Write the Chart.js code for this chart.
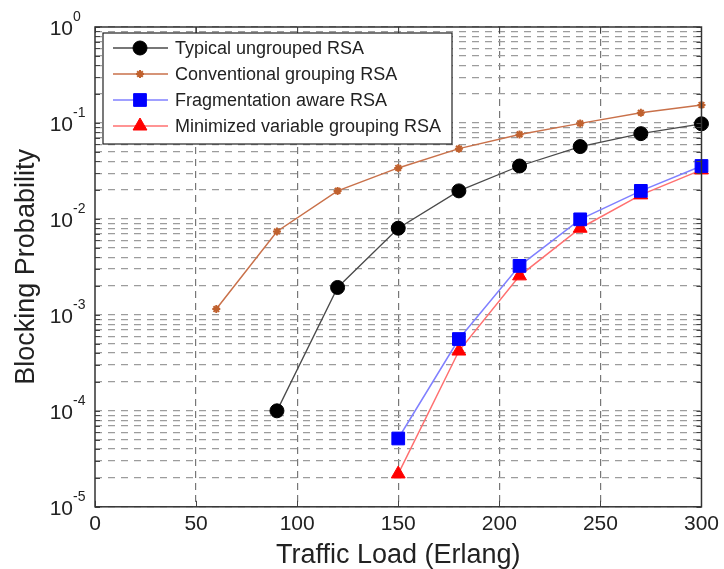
<!DOCTYPE html>
<html>
<head>
<meta charset="utf-8">
<script src="https://cdn.jsdelivr.net/npm/chart.js@4/dist/chart.umd.min.js"></script>
<style>
  html, body { margin: 0; padding: 0; background: #fff; }
  #wrap { width: 724px; height: 569px; }
</style>
</head>
<body>
<div id="wrap"><canvas id="bpChart" width="724" height="569"></canvas></div>
<script>
// traffic loads (Erlang) per series
const loadConventional = [60, 90, 120, 150, 180, 210, 240, 270, 300];
const loadTypical = [90, 120, 150, 180, 210, 240, 270, 300];
const loadFragment = [150, 180, 210, 240, 270, 300];

// blocking probability
const bpTypical = [1.0e-4, 1.93e-3, 8.0e-3, 0.0196, 0.0356, 0.0567, 0.0774, 0.098];
const bpConventional = [1.15e-3, 7.4e-3, 0.0196, 0.034, 0.054, 0.076, 0.099, 0.128, 0.154];
const bpFragment = [5.15e-5, 5.6e-4, 3.24e-3, 9.9e-3, 0.0196, 0.0356];
const bpMinimized = [2.2e-5, 4.2e-4, 2.55e-3, 8.0e-3, 0.0178, 0.0324];

const seriesNames = [
  'Typical ungrouped RSA',
  'Conventional grouping RSA',
  'Fragmentation aware RSA',
  'Minimized variable grouping RSA'
];

// axis ticks
const xTicks = [0, 50, 100, 150, 200, 250, 300];
const yDecades = [-5, -4, -3, -2, -1, 0];

const FONT = "'Liberation Sans', Arial, sans-serif";
const TEXT = '#222';

const pts = (xs, ys) => xs.map((x, i) => ({ x: x, y: ys[i] }));

// every 1..9 x 10^k mark for the log grid
const yGridValues = [];
yDecades.forEach(k => {
  if (k === yDecades[yDecades.length - 1]) { yGridValues.push(Math.pow(10, k)); return; }
  for (let m = 1; m <= 9; m++) yGridValues.push(m * Math.pow(10, k));
});

// frame, inner ticks, y labels with exponents, y title, legend box
const axesDecor = {
  id: 'axesDecor',
  afterDatasetsDraw(chart) {
    const { ctx, chartArea: a, scales } = chart;
    const xs = scales.x, ys = scales.y;
    ctx.save();

    // inner tick marks
    ctx.strokeStyle = '#444';
    ctx.lineWidth = 1;
    ctx.beginPath();
    yGridValues.forEach(v => {
      const y = Math.round(ys.getPixelForValue(v)) + 0.5;
      ctx.moveTo(a.left, y); ctx.lineTo(a.left + 5, y);
      ctx.moveTo(a.right, y); ctx.lineTo(a.right - 5, y);
    });
    xTicks.forEach(v => {
      const x = Math.round(xs.getPixelForValue(v)) + 0.5;
      ctx.moveTo(x, a.bottom); ctx.lineTo(x, a.bottom - 6);
      ctx.moveTo(x, a.top); ctx.lineTo(x, a.top + 6);
    });
    ctx.stroke();

    // frame
    ctx.strokeStyle = '#333';
    ctx.lineWidth = 1.5;
    ctx.strokeRect(a.left, a.top, a.right - a.left, a.bottom - a.top);

    // y tick labels as 10^k
    ctx.fillStyle = TEXT;
    ctx.textBaseline = 'middle';
    yDecades.forEach(k => {
      const y = ys.getPixelForValue(Math.pow(10, k));
      ctx.font = '21px ' + FONT;
      ctx.textAlign = 'right';
      ctx.fillText('10', 73, y + 2);
      ctx.font = '14px ' + FONT;
      ctx.textAlign = 'left';
      ctx.fillText(String(k), 73, y - 10);
    });

    // y axis title
    ctx.save();
    ctx.translate(27, (a.top + a.bottom) / 2);
    ctx.rotate(-Math.PI / 2);
    ctx.font = '27px ' + FONT;
    ctx.textAlign = 'center';
    ctx.fillText('Blocking Probability', 0, 0);
    ctx.restore();

    // legend
    const bx = 103, by = 33, bw = 349, bh = 111;
    ctx.fillStyle = '#fff';
    ctx.fillRect(bx, by, bw, bh);
    ctx.strokeStyle = '#222';
    ctx.lineWidth = 1.2;
    ctx.strokeRect(bx, by, bw, bh);
    chart.data.datasets.forEach((ds, i) => {
      const y = by + 15 + i * 26;
      ctx.strokeStyle = ds.borderColor;
      ctx.lineWidth = ds.borderWidth;
      ctx.beginPath();
      ctx.moveTo(113, y); ctx.lineTo(168, y);
      ctx.stroke();
      ctx.fillStyle = ds.pointBackgroundColor;
      ctx.strokeStyle = ds.pointBorderColor;
      ctx.lineWidth = ds.pointBorderWidth;
      Chart.helpers.drawPoint(ctx, {
        pointStyle: ds.pointStyle, radius: ds.pointRadius,
        borderWidth: ds.pointBorderWidth, rotation: 0
      }, 140, y);
      ctx.fillStyle = TEXT;
      ctx.font = '18px ' + FONT;
      ctx.textAlign = 'left';
      ctx.textBaseline = 'middle';
      ctx.fillText(ds.label, 175, y + 1);
    });

    ctx.restore();
  }
};

new Chart(document.getElementById('bpChart'), {
  type: 'line',
  data: {
    datasets: [
      {
        label: seriesNames[0],
        data: pts(loadTypical, bpTypical),
        borderColor: '#4a4a4a', borderWidth: 1.3,
        pointStyle: 'circle', pointRadius: 7,
        pointBackgroundColor: '#000', pointBorderColor: '#000', pointBorderWidth: 1
      },
      {
        label: seriesNames[1],
        data: pts(loadConventional, bpConventional),
        borderColor: '#c9714a', borderWidth: 1.5,
        pointStyle: 'star', pointRadius: 4,
        pointBackgroundColor: '#c0612e', pointBorderColor: '#c0612e', pointBorderWidth: 2
      },
      {
        label: seriesNames[2],
        data: pts(loadFragment, bpFragment),
        borderColor: '#8080ff', borderWidth: 1.5,
        pointStyle: 'rect', pointRadius: 9,
        pointBackgroundColor: '#0000ff', pointBorderColor: '#0000ff', pointBorderWidth: 1
      },
      {
        label: seriesNames[3],
        data: pts(loadFragment, bpMinimized),
        borderColor: '#ff7070', borderWidth: 1.5,
        pointStyle: 'triangle', pointRadius: 8,
        pointBackgroundColor: '#ff0000', pointBorderColor: '#ff0000', pointBorderWidth: 1
      }
    ]
  },
  options: {
    responsive: false,
    animation: false,
    clip: false,
    layout: { padding: { left: 95, top: 27, right: 19, bottom: 0 } },
    plugins: { legend: { display: false }, tooltip: { enabled: false } },
    scales: {
      x: {
        type: 'linear', min: 0, max: 300,
        afterBuildTicks: s => { s.ticks = xTicks.map(v => ({ value: v })); },
        ticks: { color: TEXT, font: { family: FONT, size: 21 }, padding: 5, maxRotation: 0 },
        grid: {
          drawTicks: false, lineWidth: 1.2,
          color: c => (c.tick && (c.tick.value === 0 || c.tick.value === 300)) ? 'rgba(0,0,0,0)' : '#777'
        },
        border: { display: false, dash: [7, 5] },
        title: {
          display: true, text: 'Traffic Load (Erlang)', color: TEXT,
          font: { family: FONT, size: 27, lineHeight: 1.0 }, padding: 0
        }
      },
      y: {
        type: 'logarithmic', min: 1e-5, max: 1,
        afterBuildTicks: s => { s.ticks = yGridValues.map(v => ({ value: v })); },
        ticks: { display: false, autoSkip: false },
        grid: { drawTicks: false, lineWidth: 1.2, color: '#9c9c9c' },
        border: { display: false, dash: [7, 6] }
      }
    }
  },
  plugins: [axesDecor]
});
</script>
</body>
</html>
